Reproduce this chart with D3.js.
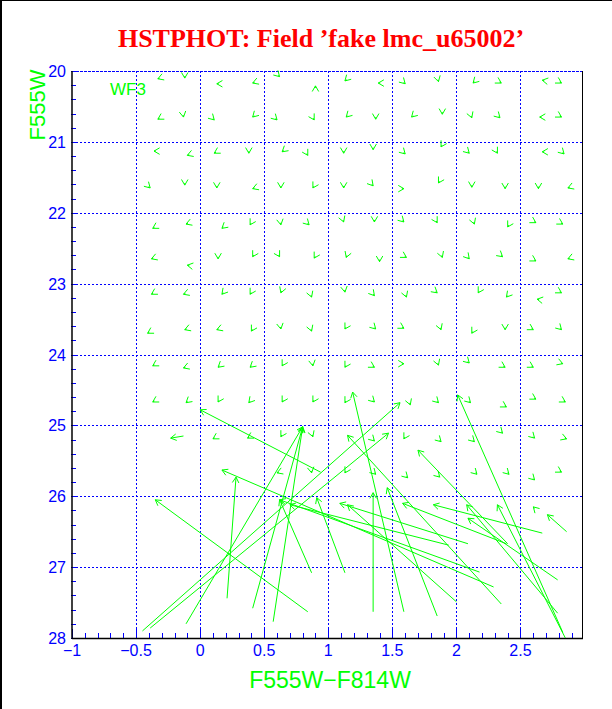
<!DOCTYPE html>
<html>
<head>
<meta charset="utf-8">
<script src="https://cdn.jsdelivr.net/npm/d3@7/dist/d3.min.js"></script>
<style>
  body { margin: 0; background: #fff; }
  svg { display: block; }
</style>
</head>
<body>
<div id="chart"></div>
<script>
var title = "HSTPHOT: Field \u2019fake lmc_u65002\u2019";
var xLabel = "F555W\u2212F814W";
var yLabel = "F555W";
var chip = "WF3";
var xTicks = [-1, -0.5, 0, 0.5, 1, 1.5, 2, 2.5];
var yTicks = [20, 21, 22, 23, 24, 25, 26, 27, 28];

// short vectors: recovered position + direction of the (tiny) offset, degrees
var smallX = [
  -0.33, -0.12, 0.13, 0.41, 0.62, 0.90, 1.13, 1.39, 1.60, 1.86, 2.13, 2.35, 2.67, 2.82,
  -0.33, -0.13, 0.11, 0.41, 0.60, 0.89, 1.14, 1.37, 1.65, 1.89, 2.12, 2.34, 2.65, 2.82,
  -0.36, -0.10, 0.11, 0.38, 0.64, 0.84, 1.12, 1.35, 1.60, 1.88, 2.10, 2.32, 2.67, 2.84,
  -0.39, -0.12, 0.13, 0.41, 0.63, 0.88, 1.12, 1.35, 1.59, 1.86, 2.12, 2.38, 2.64, 2.87,
  -0.37, -0.11, 0.17, 0.39, 0.63, 0.85, 1.12, 1.36, 1.59, 1.85, 2.14, 2.40, 2.62, 2.83,
  -0.38, -0.10, 0.14, 0.41, 0.62, 0.89, 1.14, 1.40, 1.61, 1.89, 2.10, 2.36, 2.62, 2.87,
  -0.38, -0.13, 0.17, 0.39, 0.63, 0.87, 1.13, 1.36, 1.61, 1.85, 2.17, 2.39, 2.63, 2.82,
  -0.41, -0.12, 0.13, 0.40, 0.63, 0.87, 1.13, 1.37, 1.59, 1.88, 2.12, 2.38, 2.60, 2.82,
  -0.37, -0.13, 0.14, 0.39, 0.64, 0.88, 1.13, 1.36, 1.59, 1.86, 2.10, 2.38, 2.60, 2.83,
  -0.37, -0.11, 0.14, 0.38, 0.64, 0.88, 1.13, 1.36, 1.64, 1.86, 2.11, 2.39, 2.62, 2.85,
  0.10, 0.37, 0.63, 0.88, 1.36, 1.59, 1.88, 2.14, 2.36, 2.61, 2.86,
  0.60, 0.87, 1.13, 1.37, 1.62, 1.87, 2.16, 2.41, 2.61, 2.82, 2.60
];
var smallY = [
  20.11, 20.10, 20.18, 20.17, 20.08, 20.21, 20.14, 20.17, 20.18, 20.15, 20.17, 20.17, 20.13, 20.17,
  20.68, 20.65, 20.69, 20.65, 20.69, 20.69, 20.65, 20.68, 20.65, 20.61, 20.66, 20.66, 20.65, 20.65,
  21.13, 21.19, 21.16, 21.16, 21.14, 21.19, 21.16, 21.11, 21.17, 21.07, 21.16, 21.16, 21.14, 21.17,
  21.65, 21.61, 21.65, 21.66, 21.65, 21.65, 21.65, 21.62, 21.66, 21.58, 21.64, 21.66, 21.66, 21.65,
  22.22, 22.16, 22.22, 22.17, 22.17, 22.17, 22.13, 22.13, 22.13, 22.14, 22.16, 22.20, 22.14, 22.16,
  22.65, 22.74, 22.65, 22.62, 22.62, 22.64, 22.63, 22.69, 22.63, 22.63, 22.65, 22.62, 22.68, 22.65,
  23.15, 23.15, 23.15, 23.15, 23.13, 23.19, 23.12, 23.17, 23.19, 23.13, 23.13, 23.19, 23.22, 23.13,
  23.70, 23.65, 23.65, 23.67, 23.64, 23.67, 23.64, 23.64, 23.63, 23.65, 23.70, 23.65, 23.65, 23.65,
  24.16, 24.19, 24.18, 24.18, 24.16, 24.16, 24.18, 24.18, 24.13, 24.15, 24.12, 24.18, 24.18, 24.13,
  24.67, 24.68, 24.67, 24.68, 24.67, 24.67, 24.68, 24.67, 24.71, 24.68, 24.68, 24.74, 24.63, 24.67,
  25.19, 25.18, 25.16, 25.16, 25.22, 25.19, 25.23, 25.23, 25.11, 25.18, 25.19,
  25.67, 25.67, 25.67, 25.69, 25.74, 25.73, 25.69, 25.69, 25.77, 25.66, 26.15
];
var smallAngle = [
  200, 270, 180, 200, 315, 90, 225, 180, 315, 285, 225, 330, 170, 330,
  210, 280, 315, 225, 315, 300, 225, 270, 225, 270, 290, 315, 180, 330,
  180, 200, 210, 270, 220, 300, 270, 270, 315, 240, 315, 300, 180, 315,
  315, 270, 270, 200, 270, 240, 270, 310, 0, 240, 270, 270, 270, 200,
  210, 200, 220, 240, 280, 315, 290, 270, 315, 300, 290, 240, 330, 330,
  200, 170, 270, 240, 300, 240, 250, 270, 330, 290, 310, 320, 330, 200,
  210, 200, 230, 240, 250, 290, 280, 310, 290, 320, 240, 230, 170, 330,
  210, 200, 200, 240, 280, 290, 240, 315, 330, 290, 240, 270, 330, 315,
  210, 200, 220, 220, 240, 280, 240, 330, 0, 290, 315, 330, 330, 340,
  210, 220, 240, 230, 240, 240, 240, 315, 290, 315, 315, 330, 330, 330,
  210, 210, 240, 290, 315, 240, 315, 315, 315, 315, 340,
  200, 280, 240, 315, 315, 315, 315, 315, 315, 330, 135
];

// long vectors: input (tail) -> recovered (head)
var longX0 = [
  -0.13, 0.94, 0.84, 2.29, 0.21, -0.45, -0.39, -0.11, 0.41, 0.57,
  1.59, 2.83, 1.35, 2.35, 2.40, 2.18, 1.94, 2.09, 2.00, 1.85,
  1.13, 2.79, 2.79, 2.85, 2.67, 2.86, 2.39, 0.87
];
var longY0 = [
  25.15, 25.66, 27.63, 27.28, 27.44, 27.90, 27.86, 27.80, 27.58, 27.77,
  27.63, 27.92, 27.63, 27.52, 26.67, 27.07, 26.69, 26.67, 27.49, 27.69,
  27.08, 27.65, 27.18, 28.00, 26.52, 26.50, 26.67, 27.08
];
var longX1 = [
  -0.23, 0.00, -0.35, 0.17, 0.28, 1.56, 1.47, 0.80, 0.80, 0.80,
  1.19, 2.01, 1.35, 1.15, 1.70, 0.62, 0.70, 1.09, 1.15, 1.46,
  0.91, 2.08, 2.09, 2.32, 1.82, 2.71, 1.58, 0.62
];
var longY1 = [
  25.18, 24.78, 26.05, 25.63, 25.73, 24.68, 25.11, 25.02, 25.02, 25.02,
  24.53, 24.57, 25.95, 25.14, 25.35, 26.05, 26.12, 26.10, 26.12, 25.88,
  26.02, 26.12, 26.31, 26.12, 26.12, 26.26, 26.10, 26.05
];

var W = 612, H = 709;
var svg = d3.select("#chart").append("svg")
    .attr("width", W).attr("height", H)
    .style("font-family", "'Liberation Sans', Arial, sans-serif");

var x = d3.scaleLinear().domain([-1, 2.98]).range([72, 582]);
var y = d3.scaleLinear().domain([20, 28]).range([71, 638]);

var blue = "#0000ff", green = "#00ff00";

// outer frame of the picture
svg.append("line").attr("x1", 1).attr("y1", 0).attr("x2", 1).attr("y2", H)
    .attr("stroke", "#000").attr("stroke-width", 2);
svg.append("line").attr("x1", 0).attr("y1", 0.5).attr("x2", W).attr("y2", 0.5)
    .attr("stroke", "#000").attr("stroke-width", 1);

// title
svg.append("text")
    .attr("x", 321).attr("y", 47)
    .attr("text-anchor", "middle")
    .style("font-family", "'Liberation Serif', 'Times New Roman', serif")
    .style("font-weight", "bold")
    .style("font-size", "26px")
    .attr("fill", "#ff0000")
    .text(title);

// grid
var grid = svg.append("g").attr("stroke", blue).attr("stroke-width", 1)
    .attr("stroke-dasharray", "2,2");
grid.selectAll(".gx").data(xTicks.slice(1)).enter().append("line")
    .attr("x1", function (d) { return Math.round(x(d)) + 0.5; })
    .attr("x2", function (d) { return Math.round(x(d)) + 0.5; })
    .attr("y1", y(20)).attr("y2", y(28));
grid.selectAll(".gy").data(yTicks.slice(1, -1)).enter().append("line")
    .attr("y1", function (d) { return Math.round(y(d)) + 0.5; })
    .attr("y2", function (d) { return Math.round(y(d)) + 0.5; })
    .attr("x1", x(-1)).attr("x2", x(2.98));
// top edge
svg.append("line").attr("x1", x(-1)).attr("x2", x(2.98))
    .attr("y1", y(20) + 0.5).attr("y2", y(20) + 0.5)
    .attr("stroke", blue).attr("stroke-dasharray", "3,1");

// minor ticks
var ticks = svg.append("g").attr("stroke", blue).attr("stroke-width", 1);
var xMinor = d3.range(-10, 30).map(function (i) { return i / 10; });
ticks.selectAll(".tx").data(xMinor).enter().append("line")
    .attr("x1", function (d) { return Math.round(x(d)) + 0.5; })
    .attr("x2", function (d) { return Math.round(x(d)) + 0.5; })
    .attr("y1", y(28)).attr("y2", function (d) {
        return y(28) - (Math.abs(d * 2 - Math.round(d * 2)) < 1e-6 ? 9 : 5);
    });
var yMinor = d3.range(100, 141).map(function (i) { return i / 5; });
ticks.selectAll(".ty").data(yMinor).enter().append("line")
    .attr("y1", function (d) { return Math.round(y(d)) + 0.5; })
    .attr("y2", function (d) { return Math.round(y(d)) + 0.5; })
    .attr("x1", x(-1) - 1).attr("x2", function (d) {
        return x(-1) + (Math.abs(d - Math.round(d)) < 1e-6 ? 6 : 4);
    });

// axes lines
svg.append("line").attr("x1", x(-1)).attr("x2", x(-1)).attr("y1", y(20)).attr("y2", y(28) + 1)
    .attr("stroke", "#000").attr("stroke-width", 1.5);
svg.append("line").attr("x1", x(-1)).attr("x2", x(2.98) + 1).attr("y1", y(28) + 0.5).attr("y2", y(28) + 0.5)
    .attr("stroke", "#000").attr("stroke-width", 1.5);
svg.append("line").attr("x1", x(2.98) + 0.5).attr("x2", x(2.98) + 0.5).attr("y1", y(20)).attr("y2", y(28))
    .attr("stroke", "#000").attr("stroke-width", 1);

// tick labels
svg.selectAll(".xl").data(xTicks).enter().append("text")
    .attr("x", function (d) { return x(d); })
    .attr("y", 656)
    .attr("text-anchor", "middle")
    .attr("fill", blue)
    .style("font-size", "16px")
    .text(function (d) { return d < 0 ? "\u2212" + Math.abs(d) : d; });
svg.selectAll(".yl").data(yTicks).enter().append("text")
    .attr("x", 66)
    .attr("y", function (d) { return y(d) + 6; })
    .attr("text-anchor", "end")
    .attr("fill", blue)
    .style("font-size", "16px")
    .text(function (d) { return d; });

// axis titles
svg.append("text").attr("x", 330).attr("y", 688)
    .attr("text-anchor", "middle").attr("fill", green)
    .style("font-size", "23px")
    .text(xLabel);
svg.append("text")
    .attr("transform", "translate(45,105) rotate(-90)")
    .attr("text-anchor", "middle").attr("fill", green)
    .style("font-size", "22px")
    .text(yLabel);
svg.append("text").attr("x", 110).attr("y", 95)
    .attr("fill", green).style("font-size", "17px")
    .text(chip);

// arrows
var headLen = 6.5, headAng = Math.PI / 6;
function arrowPath(tx, ty, hx, hy) {
    var phi = Math.atan2(hy - ty, hx - tx);
    var p = d3.path();
    p.moveTo(tx, ty);
    p.lineTo(hx, hy);
    p.moveTo(hx - headLen * Math.cos(phi - headAng), hy - headLen * Math.sin(phi - headAng));
    p.lineTo(hx, hy);
    p.lineTo(hx - headLen * Math.cos(phi + headAng), hy - headLen * Math.sin(phi + headAng));
    return p.toString();
}

var arrows = svg.append("g").attr("fill", "none").attr("stroke", green).attr("stroke-width", 1);

arrows.selectAll(".small").data(d3.range(smallX.length)).enter().append("path")
    .attr("d", function (i) {
        var hx = x(smallX[i]), hy = y(smallY[i]);
        var a = -smallAngle[i] * Math.PI / 180;
        return arrowPath(hx - 2 * Math.cos(a), hy - 2 * Math.sin(a), hx, hy);
    });

arrows.selectAll(".long").data(d3.range(longX0.length)).enter().append("path")
    .attr("d", function (i) {
        return arrowPath(x(longX0[i]), y(longY0[i]), x(longX1[i]), y(longY1[i]));
    });
</script>
</body>
</html>
